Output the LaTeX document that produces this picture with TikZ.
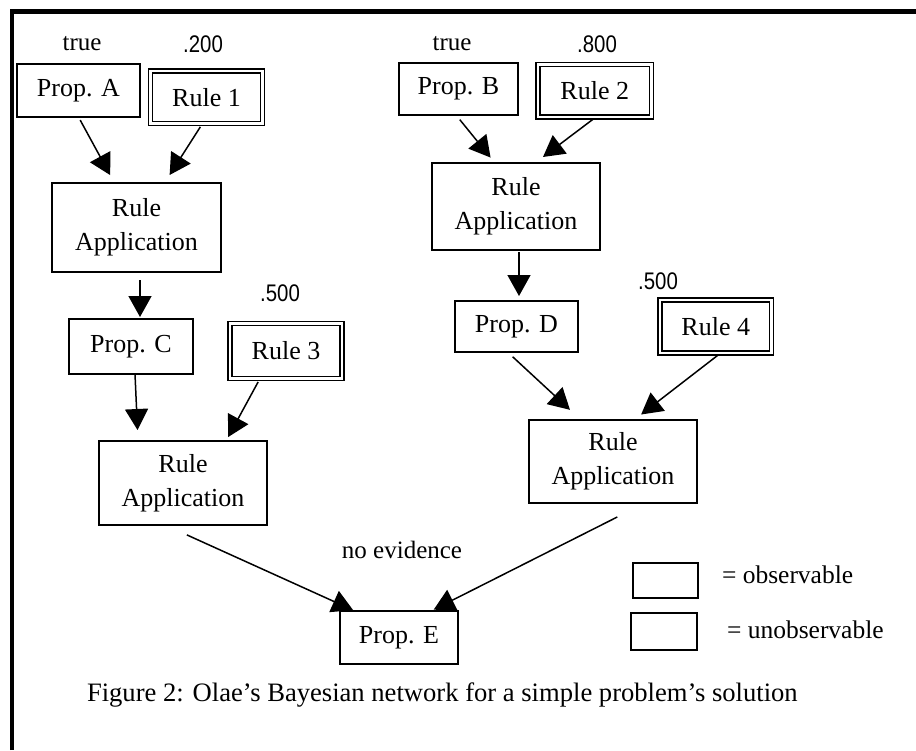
\documentclass[tikz,border=0pt]{standalone}
\usepackage{fontspec}
\setmainfont{Liberation Serif}
\newfontfamily\numfont[FakeStretch=0.85]{Liberation Sans}
\usetikzlibrary{arrows.meta}
\begin{document}
\begin{tikzpicture}[x=1pt,y=-1pt,
  every node/.style={inner sep=0pt, outer sep=0pt},
  prop/.style={draw, line width=1.6pt, font=\fontsize{26}{34}\selectfont, align=center},
  rulebox/.style={draw, double, double distance=2.8pt, line width=1.3pt, font=\fontsize{26}{34}\selectfont},
  lab/.style={font=\fontsize{25}{30}\selectfont},
  num/.style={font=\numfont\fontsize{24}{28}\selectfont},
  arr/.style={line width=1.5pt, -{Triangle[length=21pt,width=23pt]}},
]
\useasboundingbox[fill=white] (0,0) rectangle (916,750);
\draw[line width=4.5pt] (12,750) -- (12,11.5) -- (916,11.5);

% left tree
\node[prop, minimum width=123pt, minimum height=53pt] (pa) at (78.5,90.5) {Prop. A};
\node[rulebox, minimum width=111.5pt, minimum height=52.5pt] (r1) at (206.5,97.25) {Rule 1};
\node[prop, minimum width=169pt, minimum height=89pt] (ra1) at (136.5,227.5) {Rule\\Application};
\node[prop, minimum width=124pt, minimum height=55pt] (pc) at (131,346.5) {Prop. C};
\node[rulebox, minimum width=112pt, minimum height=55pt] (r3) at (286,351) {Rule 3};
\node[prop, minimum width=168pt, minimum height=84pt] (ra2) at (183,483) {Rule\\Application};
\node[prop, minimum width=118pt, minimum height=53pt] (pe) at (399,637.5) {Prop. E};

% right tree
\node[prop, minimum width=119pt, minimum height=52pt] (pb) at (458.5,89) {Prop. B};
\node[rulebox, minimum width=113.5pt, minimum height=52.5pt] (r2) at (594.75,90.75) {Rule 2};
\node[prop, minimum width=168pt, minimum height=87pt] (rab) at (516,206.5) {Rule\\Application};
\node[prop, minimum width=123pt, minimum height=51pt] (pd) at (516.5,326.5) {Prop. D};
\node[rulebox, minimum width=111.5pt, minimum height=53pt] (r4) at (715.75,326.5) {Rule 4};
\node[prop, minimum width=168pt, minimum height=83pt] (ra4) at (613,461.5) {Rule\\Application};

% labels
\node[lab] (ta) at (82,44) {true};
\node[num] (v200) at (203,44) {.200};
\node[lab] (tb) at (452,44) {true};
\node[num] (v800) at (597,44) {.800};
\node[num] (v500a) at (280,293) {.500};
\node[num] (v500b) at (658,281) {.500};
\node[lab] (ne) at (402,550) {no evidence};

% legend
\node[prop, minimum width=65pt, minimum height=35pt] (lo) at (665.5,580.5) {};
\node[prop, minimum width=66pt, minimum height=37pt] (lu) at (664,631.5) {};
\node[lab, font=\fontsize{25.5}{30}\selectfont, anchor=west] (lot) at (722,575) {= observable};
\node[lab, font=\fontsize{25.5}{30}\selectfont, anchor=west] (lut) at (727,630) {= unobservable};

% caption
\node[lab, font=\fontsize{26.6}{30}\selectfont, anchor=west] (cap) at (87,695) {Figure 2: Olae's Bayesian network for a simple problem's solution};

% arrows
\draw[arr, shorten <=3.5pt, shorten >=9pt] (pa.south) -- ([xshift=-22pt]ra1.north);
\draw[arr, shorten <=4pt, shorten >=9.5pt] ([xshift=-4pt]r1.south) -- ([xshift=28pt]ra1.north);
\draw[arr, shorten <=8pt, shorten >=2pt] ([xshift=3.5pt]ra1.south) -- ([xshift=9pt]pc.north);
\draw[arr, shorten <=1pt, shorten >=11pt] ([xshift=4pt]pc.south) -- ([xshift=-45pt]ra2.north);
\draw[arr, shorten <=4pt, shorten >=4.5pt] ([xshift=-26pt]r3.south) -- ([xshift=43pt]ra2.north);
\draw[arr, shorten <=24pt, shorten >=2pt] ([xshift=-18pt]ra2.south) -- ([xshift=-44pt]pe.north);
\draw[arr, shorten <=31pt, shorten >=3pt] ([xshift=32pt]ra4.south) -- ([xshift=32pt]pe.north);
\draw[arr, shorten <=6pt, shorten >=7pt] ([xshift=-2.5pt]pb.south) -- ([xshift=-21pt]rab.north);
\draw[arr, shorten <=4pt, shorten >=10pt] ([xshift=1.25pt]r2.south) -- ([xshift=19pt]rab.north);
\draw[arr, shorten <=2pt, shorten >=5pt] ([xshift=3pt]rab.south) -- ([xshift=2.5pt]pd.north);
\draw[arr, shorten <=7pt, shorten >=15pt] ([xshift=-9pt]pd.south) -- ([xshift=-32pt]ra4.north);
\draw[arr, shorten <=3pt, shorten >=9pt] ([xshift=5pt]r4.south) -- ([xshift=21pt]ra4.north);
\end{tikzpicture}
\end{document}
